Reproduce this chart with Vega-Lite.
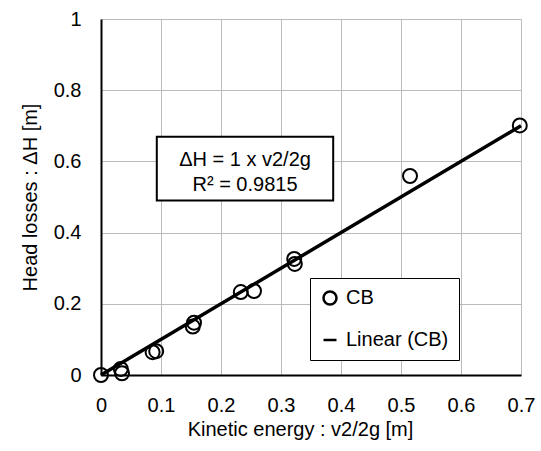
{
  "$schema": "https://vega.github.io/schema/vega-lite/v6.json",
  "width": 420,
  "height": 356,
  "autosize": "none",
  "padding": {"left": 101, "top": 19, "right": 20, "bottom": 76},
  "background": "white",
  "config": {
    "view": {"stroke": null},
    "font": "Liberation Sans",
    "axis": {
      "domainColor": "#000",
      "domainWidth": 2,
      "ticks": false,
      "grid": true,
      "gridColor": "#bbbbbb",
      "gridWidth": 1,
      "labelFont": "Liberation Sans",
      "labelFontSize": 20,
      "labelColor": "#000",
      "titleFont": "Liberation Sans",
      "titleFontSize": 20,
      "titleFontWeight": "normal",
      "titleColor": "#000"
    },
    "legend": {
      "orient": "none",
      "legendX": 209,
      "legendY": 259,
      "strokeColor": "#000",
      "fillColor": "white",
      "padding": 10,
      "labelFont": "Liberation Sans",
      "labelFontSize": 20,
      "labelColor": "#000",
      "labelOffset": 6,
      "rowPadding": 20,
      "symbolSize": 169,
      "symbolStrokeWidth": 2.5
    }
  },
  "datasets": {
    "points": [
      {"ke": 0.0, "dh": 0.0, "series": "CB"},
      {"ke": 0.033, "dh": 0.017, "series": "CB"},
      {"ke": 0.035, "dh": 0.005, "series": "CB"},
      {"ke": 0.086, "dh": 0.064, "series": "CB"},
      {"ke": 0.092, "dh": 0.067, "series": "CB"},
      {"ke": 0.153, "dh": 0.136, "series": "CB"},
      {"ke": 0.155, "dh": 0.147, "series": "CB"},
      {"ke": 0.233, "dh": 0.233, "series": "CB"},
      {"ke": 0.255, "dh": 0.236, "series": "CB"},
      {"ke": 0.322, "dh": 0.326, "series": "CB"},
      {"ke": 0.323, "dh": 0.312, "series": "CB"},
      {"ke": 0.515, "dh": 0.559, "series": "CB"},
      {"ke": 0.698, "dh": 0.701, "series": "CB"}
    ],
    "trend": [
      {"ke": 0.0, "dh": 0.0},
      {"ke": 0.7, "dh": 0.7}
    ]
  },
  "layer": [
    {
      "data": {"name": "points"},
      "mark": {"type": "point", "filled": false, "stroke": "#000", "strokeWidth": 2, "size": 196, "opacity": 1},
      "encoding": {
        "x": {
          "field": "ke",
          "type": "quantitative",
          "scale": {"domain": [0, 0.7], "nice": false},
          "axis": {
            "title": "Kinetic energy : v2/2g [m]",
            "values": [0, 0.1, 0.2, 0.3, 0.4, 0.5, 0.6, 0.7],
            "format": "~g",
            "grid": true,
            "labelFlush": false,
            "labelPadding": 20,
            "titlePadding": 4,
            "titleX": 199
          }
        },
        "y": {
          "field": "dh",
          "type": "quantitative",
          "scale": {"domain": [0, 1], "nice": false},
          "axis": {
            "title": "Head losses : ΔH [m]",
            "values": [0, 0.2, 0.4, 0.6, 0.8, 1],
            "format": "~g",
            "grid": true,
            "labelPadding": 20,
            "titlePadding": 13
          }
        },
        "shape": {
          "field": "series",
          "type": "nominal",
          "scale": {"domain": ["CB", "Linear (CB)"], "range": ["circle", "stroke"]},
          "legend": {"title": null}
        }
      }
    },
    {
      "data": {"name": "trend"},
      "mark": {"type": "line", "color": "#000", "strokeWidth": 3.5},
      "encoding": {
        "x": {"field": "ke", "type": "quantitative"},
        "y": {"field": "dh", "type": "quantitative"}
      }
    },
    {
      "data": {"values": [{}]},
      "mark": {"type": "rect", "fill": "white", "stroke": "#000", "strokeWidth": 2},
      "encoding": {
        "x": {"datum": 0.093, "type": "quantitative"},
        "x2": {"datum": 0.387},
        "y": {"datum": 0.49, "type": "quantitative"},
        "y2": {"datum": 0.669}
      }
    },
    {
      "data": {"values": [{}]},
      "mark": {"type": "text", "fontSize": 20, "font": "Liberation Sans", "color": "#000", "align": "center", "baseline": "middle"},
      "encoding": {
        "x": {"datum": 0.24, "type": "quantitative"},
        "y": {"datum": 0.604, "type": "quantitative"},
        "text": {"value": "ΔH = 1 x v2/2g"}
      }
    },
    {
      "data": {"values": [{}]},
      "mark": {"type": "text", "fontSize": 20, "font": "Liberation Sans", "color": "#000", "align": "center", "baseline": "middle"},
      "encoding": {
        "x": {"datum": 0.24, "type": "quantitative"},
        "y": {"datum": 0.534, "type": "quantitative"},
        "text": {"value": "R² = 0.9815"}
      }
    }
  ]
}
